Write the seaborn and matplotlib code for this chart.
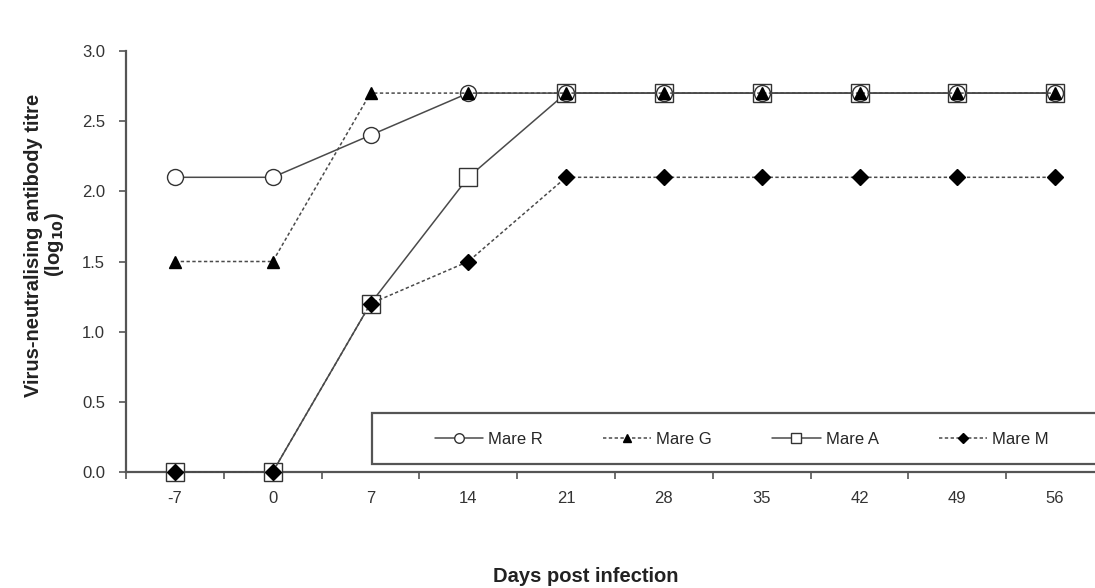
import pandas as pd
import matplotlib.pyplot as plt
import seaborn as sns
from matplotlib.patches import Rectangle

# days post infection (categorical axis) and log10 titres per mare
days = [-7, 0, 7, 14, 21, 28, 35, 42, 49, 56]
mare_r = [2.1, 2.1, 2.4, 2.7, 2.7, 2.7, 2.7, 2.7, 2.7, 2.7]
mare_g = [1.5, 1.5, 2.7, 2.7, 2.7, 2.7, 2.7, 2.7, 2.7, 2.7]
mare_a = [0.0, 0.0, 1.2, 2.1, 2.7, 2.7, 2.7, 2.7, 2.7, 2.7]
mare_m = [0.0, 0.0, 1.2, 1.5, 2.1, 2.1, 2.1, 2.1, 2.1, 2.1]

sns.set_style("ticks")
plt.rcParams["font.family"] = ["Liberation Sans", "DejaVu Sans"]

pos = list(range(len(days)))
df = pd.DataFrame({"pos": pos, "R": mare_r, "G": mare_g, "A": mare_a, "M": mare_m})

fig = plt.figure(figsize=(10.95, 5.88), dpi=100)
ax = fig.add_axes([126 / 1095, 116 / 588, 978 / 1095, 421 / 588])

line_col = "#4a4a4a"
styles = {
    # name: (label, marker, size, face, dashes, zorder)
    "R": ("Mare R", "o", 11.5, "white", "", 4),
    "G": ("Mare G", "^", 9, "black", (2.2, 1.6), 5),
    "A": ("Mare A", "s", 13, "white", "", 3),
    "M": ("Mare M", "D", 8, "black", (2.2, 1.6), 6),
}

handles = {}
for key, (label, mk, ms, face, dash, z) in styles.items():
    sns.lineplot(data=df, x="pos", y=key, ax=ax, color=line_col, lw=1.1,
                 marker=mk, markersize=ms, markerfacecolor=face,
                 markeredgecolor="black" if face == "black" else "#333333",
                 markeredgewidth=1.0, label=label, zorder=z, legend=False)
    ln = ax.lines[-1]
    ln.set_clip_on(False)
    if dash:
        ln.set_dashes(dash)
    handles[key] = ln

ax.set_xlim(-0.5, 9.5)
ax.set_ylim(0, 3.0)
ax.set_yticks([0, 0.5, 1.0, 1.5, 2.0, 2.5, 3.0])
ax.set_yticklabels([f"{v:.1f}" for v in [0, 0.5, 1.0, 1.5, 2.0, 2.5, 3.0]])
ax.set_xticks(pos)
ax.set_xticklabels([str(d) for d in days])
ax.set_xticks([p + 0.5 for p in pos[:-1]] + [-0.5], minor=True)
ax.set_xlabel("")
ax.set_ylabel("")
ax.tick_params(axis="x", which="major", length=0, pad=14, labelsize=12, colors="#333333")
ax.tick_params(axis="x", which="minor", length=5, width=1.2, color="#555555")
ax.tick_params(axis="y", length=5, width=1.2, color="#555555", labelsize=12,
               labelcolor="#333333", pad=10)
for s in ["top", "right"]:
    ax.spines[s].set_visible(False)
for s in ["left", "bottom"]:
    ax.spines[s].set_color("#555555")
    ax.spines[s].set_linewidth(1.6)
    ax.spines[s].set_zorder(2)

fig.text(45 / 1095, 1 - 245 / 588,
         "Virus-neutralising antibody titre\n(log$_{\\mathbf{10}}$)",
         rotation=90, ha="center", va="center", multialignment="center",
         fontsize=14.5, fontweight="bold", color="#222222", linespacing=0.95)
fig.text(586 / 1095, 1 - 577 / 588, "Days post infection", ha="center", va="center",
         fontsize=14.5, fontweight="bold", color="#222222")

# legend box (runs off the right edge like the original)
box = Rectangle((372 / 1095, 1 - 464 / 588), 740 / 1095, 51 / 588,
                transform=fig.transFigure, facecolor="white",
                edgecolor="#555555", linewidth=1.6, zorder=7, clip_on=False)
ax.add_patch(box)
leg = ax.legend([handles[k] for k in ["R", "G", "A", "M"]],
                [styles[k][0] for k in ["R", "G", "A", "M"]],
                ncol=4, loc="center left",
                bbox_to_anchor=(435 / 1095, 1 - 439 / 588),
                bbox_transform=fig.transFigure,
                frameon=False, fontsize=12, markerscale=0.6,
                handlelength=2.9, handletextpad=0.3, columnspacing=3.6,
                borderpad=0, borderaxespad=0)
leg.set_zorder(8)

fig.savefig("out.png", dpi=100)
